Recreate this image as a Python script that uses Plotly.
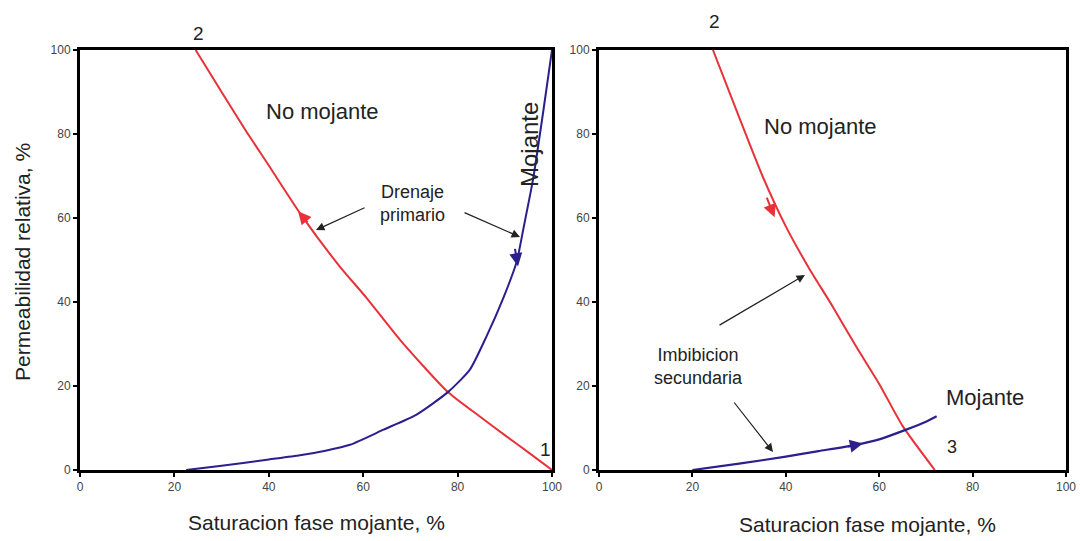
import plotly.graph_objects as go

W, H = 1080, 541

# ---------------- data ----------------
tick_vals = [0, 20, 40, 60, 80, 100]
tick_text = ["0", "20", "40", "60", "80", "100"]

# Left panel: drenaje primario
left_nomoj_x = [24.5, 30, 35, 40, 47, 55, 60.7, 67.8, 78, 85, 90, 95, 100]
left_nomoj_y = [100, 90, 81, 72.5, 60.5, 48.5, 41, 31, 18.5, 12.5, 8.3, 4.2, 0]
left_moj_x = [22.5, 30, 40, 46.6, 52, 57.2, 64.3, 71.3, 78, 82.6, 86.2, 89.7, 92.5, 94, 96, 98.1, 100]
left_moj_y = [0, 1, 2.5, 3.5, 4.6, 6.0, 9.6, 13.2, 18.6, 23.9, 32, 41, 49.5, 57.8, 69.3, 85, 100]

# Right panel: imbibicion secundaria
right_nomoj_x = [24.4, 30, 35, 40, 45, 50, 55, 60, 65, 71.9]
right_nomoj_y = [100, 84, 70, 58, 48, 39, 29.5, 20.5, 10.5, 0]
right_moj_x = [20, 30, 40, 47, 55, 60, 65.5, 70, 72.3]
right_moj_y = [0, 1.5, 3.2, 4.5, 6, 7.3, 9.5, 11.5, 12.8]

RED = "#e8323a"
BLUE = "#2b1f8e"
FONT = "Liberation Sans, Arial, sans-serif"

fig = go.Figure()
fig.add_trace(go.Scatter(x=left_nomoj_x, y=left_nomoj_y, mode="lines",
                         line=dict(color=RED, width=2, shape="spline", smoothing=0.6),
                         xaxis="x", yaxis="y", showlegend=False))
fig.add_trace(go.Scatter(x=left_moj_x, y=left_moj_y, mode="lines",
                         line=dict(color=BLUE, width=2, shape="spline", smoothing=0.6),
                         xaxis="x", yaxis="y", showlegend=False))
fig.add_trace(go.Scatter(x=right_nomoj_x, y=right_nomoj_y, mode="lines",
                         line=dict(color=RED, width=2, shape="spline", smoothing=0.6),
                         xaxis="x2", yaxis="y2", showlegend=False))
fig.add_trace(go.Scatter(x=right_moj_x, y=right_moj_y, mode="lines",
                         line=dict(color=BLUE, width=2.2, shape="spline", smoothing=0.6),
                         xaxis="x2", yaxis="y2", showlegend=False))


def px(x):
    return x / W


def py(y):
    return 1 - y / H


axis_common = dict(range=[0, 100], tickvals=tick_vals, ticktext=tick_text,
                   showline=True, linecolor="black", linewidth=3, mirror=True,
                   ticks="outside", ticklen=4, tickwidth=1.5, tickcolor="black",
                   showgrid=False, zeroline=False, automargin=False,
                   tickfont=dict(family=FONT, size=12, color="#444"))

ydom = [py(470), py(50)]
fig.update_layout(
    autosize=True,
    margin=dict(l=0, r=0, t=0, b=0, pad=0),
    paper_bgcolor="white", plot_bgcolor="white",
    xaxis=dict(domain=[px(80), px(552)], anchor="y", **axis_common),
    yaxis=dict(domain=ydom, anchor="x", **axis_common),
    xaxis2=dict(domain=[px(599), px(1066)], anchor="y2", **axis_common),
    yaxis2=dict(domain=ydom, anchor="x2", **axis_common),
)

ann = []


def text(xp, yp, s, size, angle=0, color="#222"):
    ann.append(dict(x=px(xp), y=py(yp), xref="paper", yref="paper", text=s,
                    showarrow=False, textangle=angle, xanchor="center", yanchor="middle",
                    font=dict(family=FONT, size=size, color=color)))


def black_arrow(x0, y0, x1, y1):
    ann.append(dict(x=px(x1), y=py(y1), xref="paper", yref="paper",
                    ax=x0 - x1, ay=y0 - y1, axref="pixel", ayref="pixel",
                    text="", showarrow=True, arrowhead=2, arrowsize=1.4,
                    arrowwidth=1.2, arrowcolor="#222"))


def curve_arrow(xr, yr, x_head, y_head, x_tail, y_tail, color):
    ann.append(dict(x=x_head, y=y_head, xref=xr, yref=yr,
                    ax=x_tail, ay=y_tail, axref=xr, ayref=yr,
                    text="", showarrow=True, arrowhead=2, arrowsize=1.3,
                    arrowwidth=2, arrowcolor=color))


# left panel texts
text(198, 33, "2", 19)
text(322, 112, "No mojante", 22)
text(529, 145, "Mojante", 24, angle=-90)
text(412, 203, "Drenaje<br>primario", 18)
text(545, 449, "1", 19)
text(316, 522, "Saturacion fase mojante, %", 21)
text(22, 262, "Permeabilidad relativa, %", 21, angle=-90)
black_arrow(366, 207, 316, 230)
black_arrow(463, 212, 520, 237)
curve_arrow("x", "y", 46.2, 61.6, 48.5, 58.6, RED)
curve_arrow("x", "y", 92.8, 48.5, 92.1, 53.0, BLUE)

# right panel texts
text(714, 22, "2", 19)
text(820, 126, "No mojante", 22)
text(698, 366, "Imbibicion<br>secundaria", 18)
text(985, 397, "Mojante", 22)
text(952, 447, "3", 18)
text(867, 524, "Saturacion fase mojante, %", 21)
black_arrow(718, 326, 805, 275)
black_arrow(733, 401, 773, 452)
curve_arrow("x2", "y2", 37.6, 60.2, 35.8, 65.2, RED)
curve_arrow("x2", "y2", 56.5, 6.3, 53.0, 5.5, BLUE)

fig.update_layout(annotations=ann)

fig.write_html(
    "out.html",
    default_width="100vw",
    default_height="100vh",
    config={"displayModeBar": False, "responsive": True},
    post_script="document.documentElement.style.margin='0';document.body.style.margin='0';"
                "document.body.style.padding='0';document.body.style.overflow='hidden';"
                "window.dispatchEvent(new Event('resize'));",
)
